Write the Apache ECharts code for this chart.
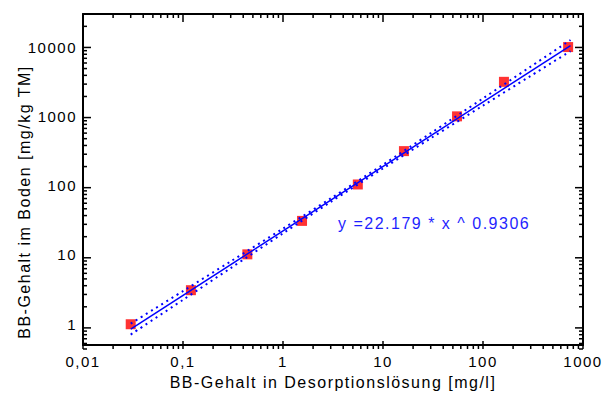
<!DOCTYPE html>
<html>
<head>
<meta charset="utf-8">
<script src="https://cdn.jsdelivr.net/npm/echarts@6/dist/echarts.min.js"></script>
<style>
  html, body { margin: 0; padding: 0; background: #fff; }
  #wrap { position: relative; width: 610px; height: 395px; }
  #chart, #ticks { position: absolute; left: 0; top: 0; width: 610px; height: 395px; }
  #ticks { pointer-events: none; }
  /* the source plot uses slightly spaced-out lettering */
  #chart text { letter-spacing: 1.5px; }
</style>
</head>
<body>
<div id="wrap">
  <div id="chart"></div>
  <div id="ticks"></div>
</div>
<script>
// measured points: BB in desorption solution [mg/l] vs. BB in soil [mg/kg TM]
const xMeasured = [0.03, 0.12, 0.44, 1.55, 5.6, 16.2, 55, 162, 710];
const yMeasured = [1, 3.1, 10.2, 31, 104, 315, 1000, 3150, 10000];

// power fit line (straight in log-log), end points as drawn
const fitX = [0.03, 750];
const fitY = [0.85, 10500];

// dotted confidence band
const bandX = [0.03, 0.1, 0.3, 1, 3, 10, 30, 100, 300, 750];
const bandUpper = [1.02, 3.01, 8.08, 24.0, 65.5, 201, 572, 1816, 5227, 12630];
const bandLower = [0.71, 2.25, 6.47, 20.5, 58.2, 177, 483, 1430, 3838, 8740];

const xRange = [0.01, 1000];
const yRange = [0.5, 30000];
const xMajor = [0.01, 0.1, 1, 10, 100, 1000];
const yMajor = [1, 10, 100, 1000, 10000];
const fitLabel = 'y =22.179 * x ^ 0.9306';

const FONT = '"Liberation Sans", Arial, sans-serif';
const BLUE = '#0000ff';
const GRID = { left: 83, right: 27, top: 14, bottom: 46, containLabel: false };

// minor ticks at 2..9 of every decade
const multipliers = [2, 3, 4, 5, 6, 7, 8, 9];
const xMinor = [];
[0.01, 0.1, 1, 10, 100].forEach(d => multipliers.forEach(m => xMinor.push(d * m)));
const yMinor = [];
[0.1, 1, 10, 100, 1000, 10000].forEach(d => multipliers.forEach(m => {
    const v = d * m;
    if (v >= yRange[0] - 1e-9 && v <= yRange[1] + 1e-6) yMinor.push(v);
}));

const frameAxis = {
    type: 'log',
    logBase: 10,
    axisLine: { show: true, onZero: false, lineStyle: { color: '#000', width: 2 } },
    axisTick: { show: false },
    splitLine: { show: false },
    minorTick: { show: false }
};

const chart = echarts.init(document.getElementById('chart'), null, { renderer: 'svg' });

chart.setOption({
    backgroundColor: '#fff',
    animation: false,
    textStyle: { fontFamily: FONT },
    grid: GRID,
    xAxis: [
        {
            ...frameAxis,
            min: xRange[0],
            max: xRange[1],
            name: 'BB-Gehalt in Desorptionslösung [mg/l]',
            nameLocation: 'middle',
            nameGap: 26,
            nameTextStyle: { fontSize: 16, color: '#000', fontFamily: FONT },
            axisLabel: {
                color: '#000',
                fontSize: 15,
                margin: 9,
                fontFamily: FONT,
                formatter: v => String(v).replace('.', ',')
            }
        },
        { ...frameAxis, position: 'top', min: xRange[0], max: xRange[1], axisLabel: { show: false } }
    ],
    yAxis: [
        {
            ...frameAxis,
            min: yRange[0],
            max: yRange[1],
            axisLabel: {
                color: '#000',
                fontSize: 15,
                margin: 6,
                fontFamily: FONT,
                showMinLabel: false,
                showMaxLabel: false,
                formatter: v => String(Math.round(v))
            }
        },
        { ...frameAxis, position: 'right', min: yRange[0], max: yRange[1], axisLabel: { show: false } }
    ],
    graphic: [
        {
            type: 'text',
            x: 24,
            y: 202,
            rotation: Math.PI / 2,
            style: {
                text: 'BB-Gehalt im Boden [mg/kg TM]',
                font: '16px ' + FONT,
                fill: '#000',
                align: 'center',
                verticalAlign: 'middle'
            }
        },
        {
            type: 'text',
            x: 338,
            y: 223,
            style: {
                text: fitLabel,
                font: '16px ' + FONT,
                fill: '#1f1fff',
                align: 'left',
                verticalAlign: 'middle'
            }
        }
    ],
    series: [
        {
            name: 'Messwerte',
            type: 'scatter',
            symbol: 'rect',
            symbolSize: 10,
            itemStyle: { color: '#ff0000' },
            z: 2,
            data: xMeasured.map((x, i) => [x, yMeasured[i]])
        },
        {
            name: 'Fit',
            type: 'line',
            showSymbol: false,
            symbol: 'none',
            lineStyle: { color: BLUE, width: 1.5 },
            z: 4,
            data: fitX.map((x, i) => [x, fitY[i]])
        },
        {
            name: 'Oberes Band',
            type: 'line',
            showSymbol: false,
            symbol: 'none',
            smooth: 0.3,
            lineStyle: { color: BLUE, width: 2, type: [2, 4] },
            z: 4,
            data: bandX.map((x, i) => [x, bandUpper[i]])
        },
        {
            name: 'Unteres Band',
            type: 'line',
            showSymbol: false,
            symbol: 'none',
            smooth: 0.3,
            lineStyle: { color: BLUE, width: 2, type: [2, 4] },
            z: 4,
            data: bandX.map((x, i) => [x, bandLower[i]])
        }
    ]
});

// inward frame ticks: a transparent overlay chart with the same grid and log axes,
// holding only one custom series (ticks didn't show when mixed with the data series)
const tickData = [];
function frameTicks(xs, ys, len) {
    xs.forEach(v => {
        tickData.push([v, yRange[0], 0, -len]);
        tickData.push([v, yRange[1], 0, len]);
    });
    ys.forEach(v => {
        tickData.push([xRange[0], v, len, 0]);
        tickData.push([xRange[1], v, -len, 0]);
    });
}
frameTicks(xMajor, yMajor, 8);
frameTicks(xMinor, yMinor, 4);

const overlayAxis = {
    type: 'log',
    logBase: 10,
    axisLine: { show: false },
    axisTick: { show: false },
    axisLabel: { show: false },
    splitLine: { show: false }
};

const tickChart = echarts.init(document.getElementById('ticks'), null, { renderer: 'svg' });
tickChart.setOption({
    animation: false,
    grid: GRID,
    xAxis: { ...overlayAxis, min: xRange[0], max: xRange[1] },
    yAxis: { ...overlayAxis, min: yRange[0], max: yRange[1] },
    series: [{
        type: 'custom',
        silent: true,
        data: tickData,
        renderItem: (params, api) => {
            const p = api.coord([api.value(0), api.value(1)]);
            return {
                type: 'line',
                shape: { x1: p[0], y1: p[1], x2: p[0] + api.value(2), y2: p[1] + api.value(3) },
                style: { stroke: '#000', lineWidth: 1.5 }
            };
        }
    }]
});
</script>
</body>
</html>
